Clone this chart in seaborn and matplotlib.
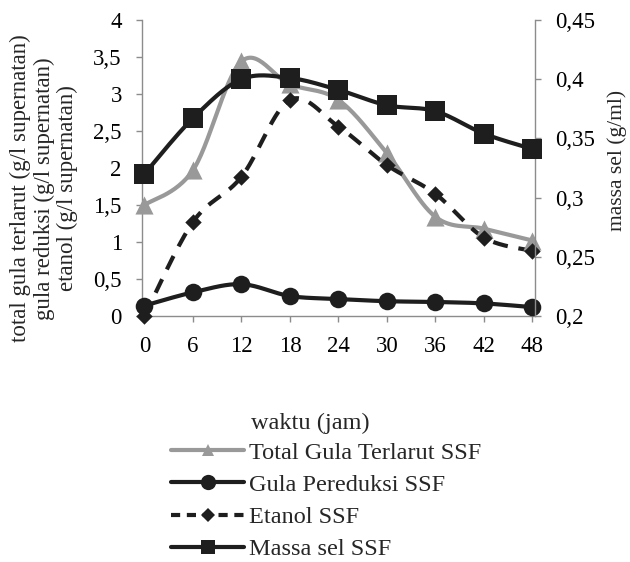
import numpy as np
import pandas as pd
import matplotlib
matplotlib.use("Agg")
import matplotlib.pyplot as plt
import seaborn as sns
from matplotlib.ticker import FuncFormatter, FixedLocator
from matplotlib.lines import Line2D

# ---- data ----
waktu = [0, 6, 12, 18, 24, 30, 36, 42, 48]
total_gula = [1.50, 1.97, 3.44, 3.13, 2.92, 2.20, 1.34, 1.18, 1.02]
gula_pereduksi = [0.14, 0.32, 0.43, 0.27, 0.23, 0.20, 0.19, 0.17, 0.12]
etanol = [0.00, 1.27, 1.88, 2.92, 2.56, 2.04, 1.65, 1.06, 0.88]
massa_sel = [0.320, 0.367, 0.400, 0.401, 0.391, 0.378, 0.373, 0.354, 0.341]
left_ticks = [0, 0.5, 1, 1.5, 2, 2.5, 3, 3.5, 4]
right_ticks = [0.2, 0.25, 0.3, 0.35, 0.4, 0.45]
labels = ["Total Gula Terlarut SSF", "Gula Pereduksi SSF", "Etanol SSF", "Massa sel SSF"]

sns.set_theme(style="white")
plt.rcParams['font.family'] = ['Liberation Serif', 'DejaVu Serif']
FS_TICK = 16.5
FS_LAB = 16.5
FS_LEG = 17.5


def smooth(x, y, n=30):
    """Bezier smoothing similar to spreadsheet 'smoothed line'."""
    x = np.asarray(x, float); y = np.asarray(y, float)
    P = np.column_stack([x, y])
    out = []
    for i in range(len(P) - 1):
        p0 = P[i - 1] if i > 0 else P[i]
        p1 = P[i]; p2 = P[i + 1]
        p3 = P[i + 2] if i + 2 < len(P) else P[i + 1]
        c1 = p1 + (p2 - p0) / 6.0
        c2 = p2 - (p3 - p1) / 6.0
        t = np.linspace(0, 1, n, endpoint=(i == len(P) - 2))[:, None]
        seg = (1 - t) ** 3 * p1 + 3 * (1 - t) ** 2 * t * c1 + 3 * (1 - t) * t ** 2 * c2 + t ** 3 * p2
        out.append(seg)
    s = np.vstack(out)
    return pd.DataFrame({"x": s[:, 0], "y": s[:, 1]})


fig = plt.figure(figsize=(6.3, 5.62), dpi=100)
ax = fig.add_axes([0.2254, 0.4377, 0.849 - 0.2254, 0.9644 - 0.4377])
ax2 = ax.twinx()

gray = "#999999"
dark = "#1e1e1e"
LW = 3.0

df_main = pd.DataFrame({"waktu": waktu, "total": total_gula, "pered": gula_pereduksi,
                        "etanol": etanol, "massa": massa_sel})

# Total gula
d = smooth(waktu, total_gula)
sns.lineplot(data=d, x="x", y="y", ax=ax, color=gray, lw=LW, sort=False, estimator=None)
sns.scatterplot(data=df_main, x="waktu", y="total", ax=ax, color=gray, marker="^", s=170,
                edgecolor=gray, linewidth=0, clip_on=False, zorder=5)
# Gula pereduksi
d = smooth(waktu, gula_pereduksi)
sns.lineplot(data=d, x="x", y="y", ax=ax, color=dark, lw=LW, sort=False, estimator=None)
sns.scatterplot(data=df_main, x="waktu", y="pered", ax=ax, color=dark, marker="o", s=160,
                edgecolor=dark, linewidth=0, clip_on=False, zorder=5)
# Etanol
d = smooth(waktu, etanol)
sns.lineplot(data=d, x="x", y="y", ax=ax, color=dark, lw=LW, sort=False, estimator=None,
             linestyle=(0, (3.6, 2.6)))
sns.scatterplot(data=df_main, x="waktu", y="etanol", ax=ax, color=dark, marker="D", s=70,
                edgecolor=dark, linewidth=0, clip_on=False, zorder=5)
# Massa sel
d = smooth(waktu, massa_sel)
sns.lineplot(data=d, x="x", y="y", ax=ax2, color=dark, lw=LW, sort=False, estimator=None)
sns.scatterplot(data=df_main, x="waktu", y="massa", ax=ax2, color=dark, marker="s", s=190,
                edgecolor=dark, linewidth=0, clip_on=False, zorder=5)

ax.set_xlim(-0.3, 48.3)
ax.set_ylim(0, 4)
ax2.set_ylim(0.2, 0.45)
ax.xaxis.set_major_locator(FixedLocator(waktu))
ax.yaxis.set_major_locator(FixedLocator(left_ticks))
ax2.yaxis.set_major_locator(FixedLocator(right_ticks))
fmt = FuncFormatter(lambda v, p: ("%g" % round(v, 3)).replace(".", ","))
ax.yaxis.set_major_formatter(fmt)
ax2.yaxis.set_major_formatter(fmt)
ax.xaxis.set_major_formatter(FuncFormatter(lambda v, p: "%d" % v))

for a in (ax, ax2):
    a.set_xlabel("")
    a.set_ylabel("")
    a.grid(False)
    a.set_facecolor("none")
    for s in a.spines.values():
        s.set_color("#8c8c8c")
        s.set_linewidth(1.0)
    a.spines["top"].set_visible(False)
ax2.spines["left"].set_visible(False)
ax2.spines["bottom"].set_visible(False)
ax.spines["right"].set_visible(False)

ax.tick_params(axis="y", which="major", direction="out", length=4.5, width=1.0,
               color="#8c8c8c", labelsize=FS_TICK, labelcolor="black", pad=10, left=True)
ax.tick_params(axis="x", which="major", direction="out", length=4.5, width=1.0,
               color="#8c8c8c", labelsize=FS_TICK, labelcolor="black", pad=10, bottom=True)
ax2.tick_params(axis="y", direction="out", length=4.5, width=1.0, color="#8c8c8c",
                labelsize=FS_TICK, labelcolor="black", pad=10, right=True)

fig.text(0.07, 0.665, "total gula terlarut (g/l supernatan)\ngula reduksi (g/l supernatan)\netanol (g/l supernatan)",
         rotation=90, ha="center", va="center", multialignment="center", fontsize=FS_LAB,
         linespacing=1.15)
fig.text(0.979, 0.715, "massa sel (g/ml)", rotation=90, ha="center", va="center", fontsize=15.5)
fig.text(0.492, 0.247, "waktu (jam)", ha="center", va="center", fontsize=FS_LEG)

handles = [
    Line2D([], [], color=gray, lw=LW, marker="^", markersize=9, markeredgewidth=0),
    Line2D([], [], color=dark, lw=LW, marker="o", markersize=11, markeredgewidth=0),
    Line2D([], [], color=dark, lw=LW, marker="D", markersize=7, markeredgewidth=0,
           linestyle=(0, (2.2, 1.6))),
    Line2D([], [], color=dark, lw=LW, marker="s", markersize=10, markeredgewidth=0),
]
fig.legend(handles, labels, loc="upper left", bbox_to_anchor=(0.272, 0.214),
           frameon=False, fontsize=FS_LEG, handlelength=3.0, handletextpad=0.2,
           labelspacing=0.42, borderpad=0, borderaxespad=0)

fig.savefig("out.png", dpi=100, facecolor="white")
